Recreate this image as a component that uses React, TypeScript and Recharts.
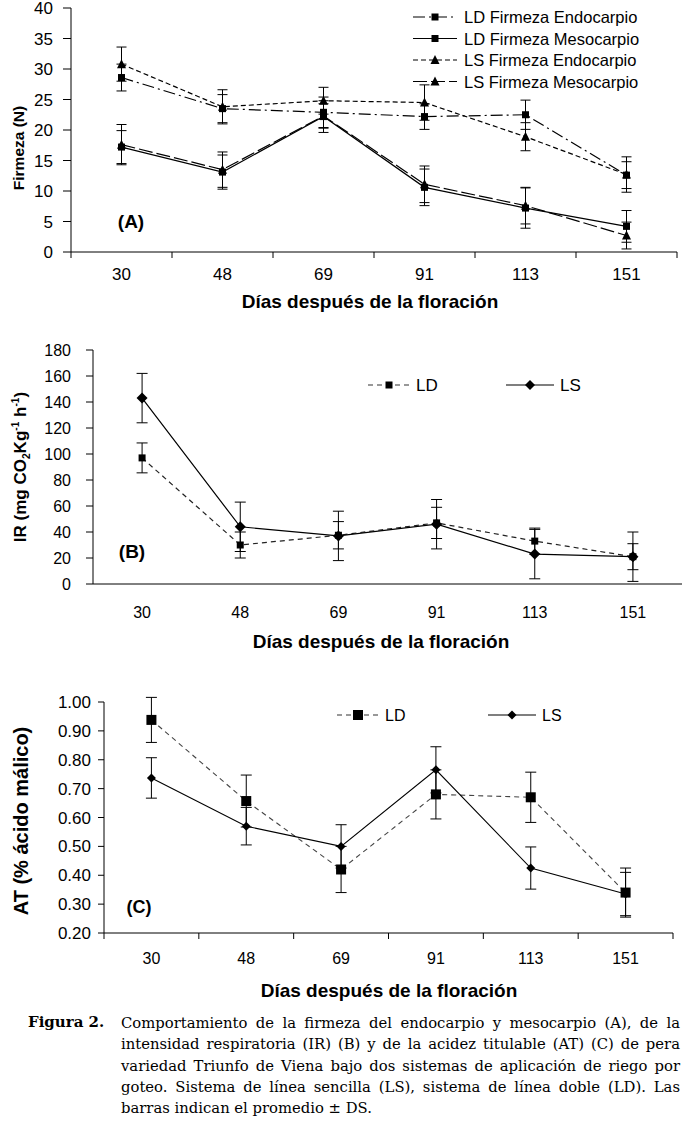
import React from "react";
import { LineChart, Line, XAxis, YAxis, ErrorBar, Legend } from "recharts";

const days = ["30", "48", "69", "91", "113", "151"];
const xTicks = [-0.5, 0, 0.5, 1, 1.5, 2, 2.5, 3, 3.5, 4, 4.5, 5, 5.5];

// (A) Firmeza (N)
const ldEndo = [28.6, 23.5, 22.9, 22.2, 22.5, 12.6];
const ldEndoErr = [2.2, 2.3, 2.5, 2.1, 2.4, 2.2];
const ldMeso = [17.2, 13.1, 22.2, 10.6, 7.2, 4.2];
const ldMesoErr = [2.7, 2.8, 2.6, 3.0, 3.3, 2.6];
const lsEndo = [30.8, 23.8, 24.8, 24.5, 18.9, 12.7];
const lsEndoErr = [2.8, 2.8, 2.2, 2.9, 2.3, 2.9];
const lsMeso = [17.6, 13.5, 22.3, 11.1, 7.6, 2.7];
const lsMesoErr = [3.3, 2.9, 2.0, 3.0, 3.0, 2.2];
const firmezaTicks = [0, 5, 10, 15, 20, 25, 30, 35, 40];

// (B) IR (mg CO2 Kg-1 h-1)
const irLD = [97, 30, 37.5, 47, 33, 21];
const irLDErr = [11.5, 10, 10.5, 12, 10, 10];
const irLS = [143, 44, 37, 46, 23, 21];
const irLSErr = [19, 19, 19, 19, 19, 19];
const irTicks = [0, 20, 40, 60, 80, 100, 120, 140, 160, 180];

// (C) AT (% acido malico)
const atLD = [0.938, 0.657, 0.42, 0.68, 0.67, 0.34];
const atLDErr = [0.078, 0.09, 0.08, 0.085, 0.087, 0.085];
const atLS = [0.737, 0.57, 0.5, 0.765, 0.425, 0.335];
const atLSErr = [0.07, 0.065, 0.075, 0.08, 0.073, 0.075];
const atTicks = [0.2, 0.3, 0.4, 0.5, 0.6, 0.7, 0.8, 0.9, 1.0];

const captionLines = [
  "Comportamiento de la firmeza del endocarpio y mesocarpio (A), de la",
  "intensidad respiratoria (IR) (B) y de la acidez titulable (AT) (C) de pera",
  "variedad Triunfo de Viena bajo dos sistemas de aplicación de riego por",
  "goteo. Sistema de línea sencilla (LS), sistema de línea doble (LD). Las",
  "barras indican el promedio ± DS.",
];

const dataA = days.map((d, i) => ({
  i,
  ldEndo: ldEndo[i],
  ldEndoErr: ldEndoErr[i],
  ldMeso: ldMeso[i],
  ldMesoErr: ldMesoErr[i],
  lsEndo: lsEndo[i],
  lsEndoErr: lsEndoErr[i],
  lsMeso: lsMeso[i],
  lsMesoErr: lsMesoErr[i],
}));
const dataB = days.map((d, i) => ({
  i,
  ld: irLD[i],
  ldErr: irLDErr[i],
  ls: irLS[i],
  lsErr: irLSErr[i],
}));
const dataC = days.map((d, i) => ({
  i,
  ld: atLD[i],
  ldErr: atLDErr[i],
  ls: atLS[i],
  lsErr: atLSErr[i],
}));

const SANS = "'Liberation Sans', Arial, sans-serif";
const SERIF = "'DejaVu Serif', serif";

function Marker({ kind, cx, cy, s }: any) {
  if (cx == null || cy == null) return null;
  if (kind === "square")
    return <rect x={cx - s / 2} y={cy - s / 2} width={s} height={s} fill="#000" />;
  if (kind === "triangle")
    return (
      <polygon
        points={`${cx},${cy - s * 0.55} ${cx + s / 2},${cy + s * 0.45} ${cx - s / 2},${cy + s * 0.45}`}
        fill="#000"
      />
    );
  return (
    <polygon
      points={`${cx},${cy - s / 2} ${cx + s / 2},${cy} ${cx},${cy + s / 2} ${cx - s / 2},${cy}`}
      fill="#000"
    />
  );
}

const dotOf = (kind: string, s: number) => (p: any) =>
  <Marker key={`${kind}-${p.index}`} kind={kind} cx={p.cx} cy={p.cy} s={s} />;

function XTick(props: any) {
  const { x, y, payload, labelDy, fs, showTicks } = props;
  const v = payload.value;
  if (Number.isInteger(v)) {
    return (
      <text
        x={x}
        y={y + labelDy}
        textAnchor="middle"
        dominantBaseline="central"
        fontSize={fs}
        fontFamily={SANS}
        fill="#000"
      >
        {days[v]}
      </text>
    );
  }
  if (!showTicks) return <g />;
  return <line x1={x} x2={x} y1={y} y2={y + 6} stroke="#000" strokeWidth={1} />;
}

function LegendSample({ x1, x2, y, dash, kind, s, color = "#000" }: any) {
  return (
    <g>
      <line x1={x1} x2={x2} y1={y} y2={y} stroke={color} strokeWidth={1.2} strokeDasharray={dash} />
      <Marker kind={kind} cx={(x1 + x2) / 2} cy={y} s={s} />
    </g>
  );
}

function LegendA() {
  const rows = [
    { label: "LD Firmeza Endocarpio", dash: "12 4 2 4", kind: "square", s: 7 },
    { label: "LD Firmeza Mesocarpio", dash: undefined, kind: "square", s: 7 },
    { label: "LS Firmeza Endocarpio", dash: "5 3", kind: "triangle", s: 9 },
    { label: "LS Firmeza Mesocarpio", dash: "14 4", kind: "triangle", s: 9 },
  ];
  return (
    <svg width={260} height={90}>
      {rows.map((r, k) => (
        <g key={r.label}>
          <LegendSample x1={8} x2={52} y={11 + k * 21.5} dash={r.dash} kind={r.kind} s={r.s} />
          <text x={59} y={11 + k * 21.5} dominantBaseline="central" fontSize={16.5} fontFamily={SANS} fill="#000">
            {r.label}
          </text>
        </g>
      ))}
    </svg>
  );
}

function LegendPair({ fs, ldSize, lsSize, ldX, lsX }: any) {
  return (
    <svg width={300} height={24}>
      <LegendSample x1={ldX} x2={ldX + 42} y={12} dash="5 4" kind="square" s={ldSize} color="#333" />
      <text x={ldX + 48} y={12} dominantBaseline="central" fontSize={fs} fontFamily={SANS} fill="#000">
        LD
      </text>
      <LegendSample x1={lsX} x2={lsX + 48} y={12} kind="diamond" s={lsSize} />
      <text x={lsX + 54} y={12} dominantBaseline="central" fontSize={fs} fontFamily={SANS} fill="#000">
        LS
      </text>
    </svg>
  );
}

function Centered({ x, y, rotate, style, children }: any) {
  return (
    <div
      style={{
        position: "absolute",
        left: x,
        top: y,
        transform: `translate(-50%, -50%)${rotate ? " rotate(-90deg)" : ""}`,
        whiteSpace: "nowrap",
        fontFamily: SANS,
        fontWeight: "bold",
        color: "#000",
        lineHeight: 1,
        ...style,
      }}
    >
      {children}
    </div>
  );
}

const axisStroke = { stroke: "#000", strokeWidth: 1 };

export default function App() {
  return (
    <div style={{ position: "absolute", left: 0, top: 0, width: 686, height: 1123, background: "#fff" }}>
      {/* Panel A */}
      <div style={{ position: "absolute", left: 0, top: 0 }}>
        <LineChart width={686} height={320} data={dataA} margin={{ top: 8, right: 9, bottom: 18, left: 0 }}>
          <XAxis
            type="number"
            dataKey="i"
            domain={[-0.5, 5.5]}
            allowDataOverflow
            ticks={xTicks}
            interval={0}
            tickLine={false}
            tickSize={0}
            tickMargin={0}
            axisLine={axisStroke}
            height={50}
            tick={(p: any) => <XTick {...p} labelDy={22} fs={17} showTicks />}
          />
          <YAxis
            type="number"
            domain={[0, 40]}
            allowDataOverflow
            ticks={firmezaTicks}
            interval={0}
            width={71}
            tickSize={8}
            tickMargin={10}
            axisLine={axisStroke}
            tickLine={axisStroke}
            tick={{ fill: "#000", fontSize: 17, fontFamily: SANS }}
          />
          <Legend
            layout="horizontal"
            verticalAlign="middle"
            align="center"
            wrapperStyle={{ left: 405, top: 6, width: 260, height: 90 }}
            content={() => <LegendA />}
          />
          <Line type="linear" dataKey="ldEndo" stroke="#000" strokeWidth={1.2} strokeDasharray="12 4 2 4" dot={dotOf("square", 7)} activeDot={false} isAnimationActive={false}>
            <ErrorBar dataKey="ldEndoErr" width={5} stroke="#000" strokeWidth={1} />
          </Line>
          <Line type="linear" dataKey="ldMeso" stroke="#000" strokeWidth={1.2} dot={dotOf("square", 7)} activeDot={false} isAnimationActive={false}>
            <ErrorBar dataKey="ldMesoErr" width={5} stroke="#000" strokeWidth={1} />
          </Line>
          <Line type="linear" dataKey="lsEndo" stroke="#000" strokeWidth={1.2} strokeDasharray="5 3" dot={dotOf("triangle", 9)} activeDot={false} isAnimationActive={false}>
            <ErrorBar dataKey="lsEndoErr" width={5} stroke="#000" strokeWidth={1} />
          </Line>
          <Line type="linear" dataKey="lsMeso" stroke="#000" strokeWidth={1.2} strokeDasharray="14 4" dot={dotOf("triangle", 9)} activeDot={false} isAnimationActive={false}>
            <ErrorBar dataKey="lsMesoErr" width={5} stroke="#000" strokeWidth={1} />
          </Line>
        </LineChart>
      </div>
      <Centered x={19} y={148} rotate style={{ fontSize: 15.5 }}>Firmeza (N)</Centered>
      <Centered x={131} y={221} style={{ fontSize: 19 }}>(A)</Centered>
      <Centered x={370} y={301} style={{ fontSize: 19 }}>Días después de la floración</Centered>

      {/* Panel B */}
      <div style={{ position: "absolute", left: 0, top: 330 }}>
        <LineChart width={686} height={340} data={dataB} margin={{ top: 20, right: 4, bottom: 26, left: 0 }}>
          <XAxis
            type="number"
            dataKey="i"
            domain={[-0.5, 5.5]}
            allowDataOverflow
            ticks={xTicks}
            interval={0}
            tickLine={false}
            tickSize={0}
            tickMargin={0}
            axisLine={axisStroke}
            height={60}
            tick={(p: any) => <XTick {...p} labelDy={28} fs={16} showTicks={false} />}
          />
          <YAxis
            type="number"
            domain={[0, 180]}
            allowDataOverflow
            ticks={irTicks}
            interval={0}
            width={93}
            tickSize={7}
            tickMargin={15}
            axisLine={axisStroke}
            tickLine={axisStroke}
            tick={{ fill: "#000", fontSize: 16, fontFamily: SANS }}
          />
          <Legend
            layout="horizontal"
            verticalAlign="middle"
            align="center"
            wrapperStyle={{ left: 360, top: 43, width: 300, height: 24 }}
            content={() => <LegendPair fs={17} ldSize={7} lsSize={10} ldX={8} lsX={146} />}
          />
          <Line type="linear" dataKey="ld" stroke="#222" strokeWidth={1.2} strokeDasharray="5 4" dot={dotOf("square", 7)} activeDot={false} isAnimationActive={false}>
            <ErrorBar dataKey="ldErr" width={5.5} stroke="#000" strokeWidth={1} />
          </Line>
          <Line type="linear" dataKey="ls" stroke="#000" strokeWidth={1.2} dot={dotOf("diamond", 11)} activeDot={false} isAnimationActive={false}>
            <ErrorBar dataKey="lsErr" width={5.5} stroke="#000" strokeWidth={1} />
          </Line>
        </LineChart>
      </div>
      <Centered x={22} y={467} rotate style={{ fontSize: 17 }}>
        IR (mg CO<sub style={{ fontSize: "0.6em" }}>2</sub>Kg<sup style={{ fontSize: "0.6em" }}>-1</sup> h<sup style={{ fontSize: "0.6em" }}>-1</sup>)
      </Centered>
      <Centered x={132} y={551} style={{ fontSize: 19 }}>(B)</Centered>
      <Centered x={381} y={641} style={{ fontSize: 19 }}>Días después de la floración</Centered>

      {/* Panel C */}
      <div style={{ position: "absolute", left: 0, top: 690 }}>
        <LineChart width={686} height={310} data={dataC} margin={{ top: 12, right: 13, bottom: 17, left: 0 }}>
          <XAxis
            type="number"
            dataKey="i"
            domain={[-0.5, 5.5]}
            allowDataOverflow
            ticks={xTicks}
            interval={0}
            tickLine={false}
            tickSize={0}
            tickMargin={0}
            axisLine={axisStroke}
            height={50}
            tick={(p: any) => <XTick {...p} labelDy={25} fs={16} showTicks />}
          />
          <YAxis
            type="number"
            domain={[0.2, 1.0]}
            allowDataOverflow
            ticks={atTicks}
            interval={0}
            width={104}
            tickSize={6}
            tickMargin={7}
            axisLine={axisStroke}
            tickLine={axisStroke}
            tickFormatter={(v: number) => v.toFixed(2)}
            tick={{ fill: "#000", fontSize: 17, fontFamily: SANS }}
          />
          <Legend
            layout="horizontal"
            verticalAlign="middle"
            align="center"
            wrapperStyle={{ left: 330, top: 13, width: 300, height: 24 }}
            content={() => <LegendPair fs={16} ldSize={10} lsSize={9} ldX={7} lsX={158} />}
          />
          <Line type="linear" dataKey="ld" stroke="#444" strokeWidth={1.1} strokeDasharray="5 4" dot={dotOf("square", 10)} activeDot={false} isAnimationActive={false}>
            <ErrorBar dataKey="ldErr" width={5.5} stroke="#000" strokeWidth={1} />
          </Line>
          <Line type="linear" dataKey="ls" stroke="#000" strokeWidth={1.1} dot={dotOf("diamond", 9)} activeDot={false} isAnimationActive={false}>
            <ErrorBar dataKey="lsErr" width={5.5} stroke="#000" strokeWidth={1} />
          </Line>
        </LineChart>
      </div>
      <Centered x={21} y={821} rotate style={{ fontSize: 20 }}>AT (% ácido málico)</Centered>
      <Centered x={139} y={907} style={{ fontSize: 18 }}>(C)</Centered>
      <Centered x={389} y={990} style={{ fontSize: 19 }}>Días después de la floración</Centered>

      {/* Caption */}
      <div
        style={{
          position: "absolute",
          left: 28,
          top: 1012,
          fontFamily: SERIF,
          fontWeight: "bold",
          fontSize: 15,
          lineHeight: "21.3px",
          whiteSpace: "nowrap",
        }}
      >
        Figura 2.
      </div>
      <div
        style={{
          position: "absolute",
          left: 121,
          top: 1012,
          width: 559,
          fontFamily: SERIF,
          fontSize: 14.8,
          lineHeight: "21.3px",
          color: "#000",
        }}
      >
        {captionLines.map((t, k) => (
          <div
            key={k}
            style={{
              textAlign: k < captionLines.length - 1 ? "justify" : "left",
              textAlignLast: k < captionLines.length - 1 ? "justify" : "left",
              whiteSpace: "nowrap",
            }}
          >
            {t}
          </div>
        ))}
      </div>
    </div>
  );
}
